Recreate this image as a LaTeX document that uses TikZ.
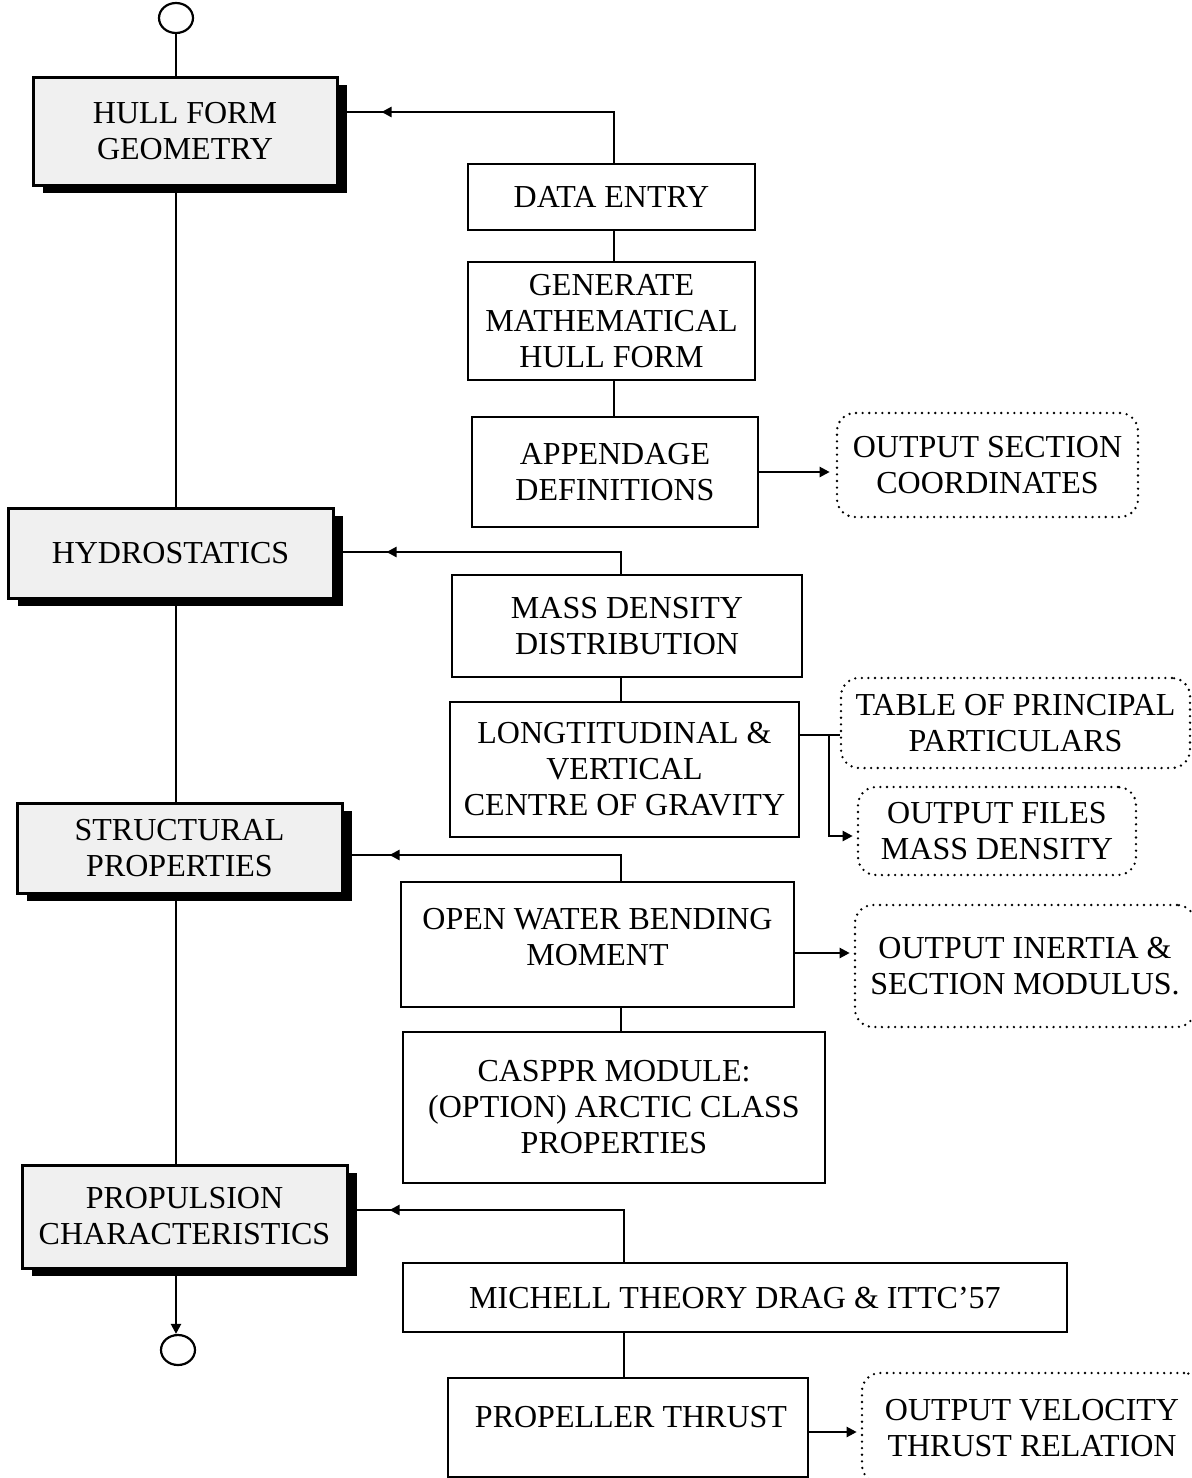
\documentclass[tikz,border=0pt]{standalone}
\usepackage{fontspec}
\setmainfont{Liberation Serif}
\usetikzlibrary{shapes.geometric,shadows,arrows.meta,decorations.markings}

\begin{document}
\begin{tikzpicture}[x=0.5pt,y=-0.5pt,
  font=\fontsize{16pt}{18pt}\selectfont,
  sz/.style 2 args={minimum width=#1*0.5pt, minimum height=#2*0.5pt},
  stage/.style={draw, line width=1.5pt, fill=black!6, inner sep=0pt, align=center,
    drop shadow={shadow xshift=5pt, shadow yshift=-4pt, fill=black, opacity=1}},
  task/.style={draw, line width=1.4pt, fill=white, inner sep=0pt, align=center},
  report/.style={draw, line width=1.3pt, line cap=round, dash pattern=on 0pt off 3.3pt,
    rounded corners=9pt, inner sep=0pt, align=center},
  terminal/.style={draw, ellipse, line width=1.1pt, minimum width=17pt, minimum height=15pt, inner sep=0pt},
  link/.style={line width=1.1pt},
  tip/.style={-{Triangle[length=5pt,width=5pt]}},
  midtip/.style={postaction={decorate}, decoration={markings,
    mark=at position -#1 with {\arrow{Triangle[length=5pt,width=5pt]}}}},
]
\useasboundingbox (0,0) rectangle (1192,1478);

% ---- main design stages (left column) ----
\coordinate (spine) at (176,0);
\node[terminal] (start) at (176,18) {};
\node[stage, sz={304}{108}] (hull) at (185,131) {HULL FORM\\GEOMETRY};
\node[stage, sz={325}{90}] (hydro) at (170.5,553) {HYDROSTATICS};
\node[stage, sz={325}{90}] (struct) at (179.5,848) {STRUCTURAL\\PROPERTIES};
\node[stage, sz={325}{103}] (prop) at (184.5,1216.5) {PROPULSION\\CHARACTERISTICS};
\node[terminal] (stop) at (178,1350) {};

\draw[link] (start.south) -- (start.south |- hull.north);
\draw[link] (hull.south -| spine) -- (hydro.north -| spine);
\draw[link] (hydro.south -| spine) -- (struct.north -| spine);
\draw[link] (struct.south -| spine) -- (prop.north -| spine);
\draw[link, tip] (prop.south -| spine) -- (stop.north -| spine);

% ---- hull form block ----
\node[task, sz={287}{66}] (data) at (611.5,197) {DATA ENTRY};
\node[task, sz={287}{118}] (gen) at (611.5,321) {GENERATE\\MATHEMATICAL\\HULL FORM};
\node[task, sz={286}{110}] (app) at (615,472) {APPENDAGE\\DEFINITIONS};
\node[report, sz={301}{104}] (outsec) at (987.5,465) {OUTPUT SECTION\\COORDINATES};

\coordinate (c1) at (614,112);
\draw[link, midtip=21.5pt] (data.north -| c1) -- (c1) -- (hull.east |- c1);
\draw[link] (data.south -| c1) -- (gen.north -| c1);
\draw[link] (gen.south -| c1) -- (app.north -| c1);
\draw[link, tip, shorten >=3pt] (app.east) -- (app.east -| outsec.west);

% ---- hydrostatics block ----
\node[task, sz={350}{102}] (mass) at (627,626) {MASS DENSITY\\DISTRIBUTION};
\node[task, sz={349}{135}] (long) at (624.5,769.5) {LONGTITUDINAL \&\\VERTICAL\\CENTRE OF GRAVITY};
\node[report, sz={349}{90}] (table) at (1015.5,723) {TABLE OF PRINCIPAL\\PARTICULARS};
\node[report, sz={278}{88}] (files) at (997,831) {OUTPUT FILES\\MASS DENSITY};

\coordinate (c2) at (621,552);
\draw[link, midtip=26pt] (mass.north -| c2) -- (c2) -- (hydro.east |- c2);
\draw[link] (mass.south -| c2) -- (long.north -| c2);
\coordinate (c3) at (829,735);
\coordinate (c4) at (829,836);
\draw[link] (long.east |- c3) -- (table.west |- c3);
\draw[link, tip, shorten >=2pt] (c3) -- (c4) -- (files.west |- c4);

% ---- structural block ----
\node[task, sz={393}{125}] (open) at (597.5,944.5) {};
\node[align=center] (opent) at (597.5,937.5) {OPEN WATER BENDING\\MOMENT};
\node[report, sz={340}{122}] (outin) at (1025,966) {OUTPUT INERTIA \&\\SECTION MODULUS.};
\node[task, sz={422}{151}] (casppr) at (614,1107.5) {CASPPR MODULE:\\(OPTION) ARCTIC CLASS\\PROPERTIES};

\coordinate (c5) at (621,855);
\draw[link, midtip=23pt] (open.north -| c5) -- (c5) -- (struct.east |- c5);
\draw[link] (open.south -| c5) -- (casppr.north -| c5);
\coordinate (c6) at (0,953);
\draw[link, tip, shorten >=2pt] (open.east |- c6) -- (outin.west |- c6);

% ---- propulsion block ----
\node[task, sz={664}{69}] (mich) at (735,1297.5) {MICHELL THEORY DRAG \& ITTC’57};
\node[task, sz={360}{99}] (thrust) at (628,1427.5) {};
\node (thrustt) at (631,1417) {PROPELLER THRUST};
\node[report, sz={340}{110}] (outvel) at (1032,1428) {OUTPUT VELOCITY\\THRUST RELATION};

\coordinate (c7) at (624,1210);
\draw[link, midtip=20.5pt] (mich.north -| c7) -- (c7) -- (prop.east |- c7);
\draw[link] (mich.south -| c7) -- (thrust.north -| c7);
\coordinate (c8) at (0,1432);
\draw[link, tip, shorten >=2pt] (thrust.east |- c8) -- (outvel.west |- c8);
\end{tikzpicture}
\end{document}
